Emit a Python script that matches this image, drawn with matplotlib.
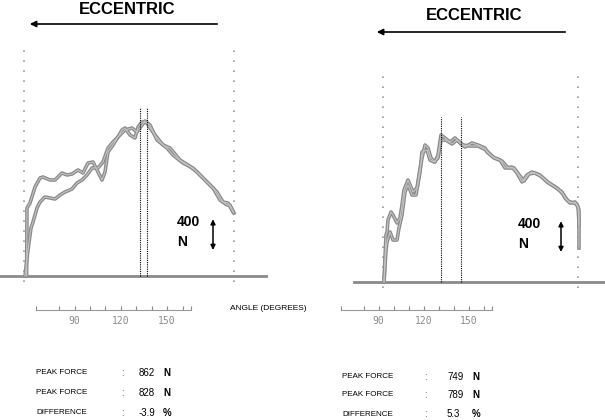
import numpy as np
import matplotlib
matplotlib.use("Agg")
import matplotlib.pyplot as plt

plt.rcParams['font.family'] = ['Liberation Sans', 'DejaVu Sans']

# --- data: angle (deg) vs force (N)
# left panel, trial 1
ang_l1 = [66.3, 66.5, 68, 70.5, 73, 74.5, 78, 80.5, 84, 86.5, 89, 92, 94.5, 97, 99.5,
          102, 104, 105.5, 107, 109.5, 112, 114, 115.5, 118, 120.5, 122, 124, 126.5,
          128, 130.5, 134.5, 138, 143, 147, 151.5, 156.5, 161.5, 164.5, 167, 169.5]
frc_l1 = [0, 884, 949, 1157, 1274, 1287, 1248, 1248, 1339, 1313, 1326, 1378, 1339, 1469, 1482,
          1352, 1248, 1352, 1612, 1703, 1807, 1898, 1924, 1833, 1794, 1937, 2002, 1989,
          1924, 1833, 1703, 1664, 1508, 1443, 1352, 1222, 1092, 962, 949, 832]
# left panel, trial 2
ang_l2 = [65.5, 67, 68.5, 69.5, 71.5, 73, 75.5, 78, 80.5, 83, 85.5, 89, 91.5, 94, 96.5,
          99, 102, 104.5, 107, 109.5, 113, 115.5, 119, 121.5, 125.5, 128, 131.5, 136.5,
          139.5, 144.5, 149.5, 154.5, 159.5, 163, 166.5, 168, 170]
frc_l2 = [0, 338, 624, 702, 884, 962, 1027, 1014, 1001, 1053, 1092, 1131, 1209, 1248, 1313,
          1404, 1404, 1482, 1664, 1742, 1833, 1898, 1924, 1872, 2015, 1963, 1768, 1664,
          1573, 1469, 1404, 1274, 1144, 988, 923, 923, 819]
# right panel, trial 1
ang_r1 = [65.5, 66.5, 67, 67.5, 69, 70, 72, 73.5, 74.5, 75.5, 77.5, 79, 80, 82, 83, 84.5,
          86, 87.5, 89, 91, 92.5, 94, 96, 98.5, 101, 103.5, 106, 109.5, 112.5, 116, 117,
          120, 123.5, 126, 129.5, 132, 134.5, 137, 139.5, 143.5, 147, 151, 154.5, 156,
          158.5, 161, 162.5, 163, 163]
frc_r1 = [0, 611, 650, 806, 910, 871, 767, 832, 1001, 1196, 1326, 1235, 1170, 1222, 1391, 1612,
          1781, 1742, 1612, 1560, 1651, 1911, 1872, 1820, 1872, 1807, 1755, 1807, 1781, 1742, 1690,
          1625, 1586, 1482, 1495, 1417, 1300, 1391, 1430, 1391, 1300, 1235, 1170, 1092,
          1027, 1040, 975, 780, 442]
# right panel, trial 2
ang_r2 = [65.5, 66.5, 67, 68.5, 70, 72, 73, 74.5, 76, 77.5, 79.5, 81.5, 83.5, 84.5, 87, 88.5,
          90.5, 92.5, 94, 96.5, 99.5, 102, 105, 108.5, 112.5, 116.5, 120.5, 124.5, 127.5,
          130.5, 133.5, 135.5, 138, 141, 144.5, 148, 152, 155, 157.5, 160, 162, 163, 163]
frc_r2 = [0, 416, 520, 650, 546, 546, 702, 871, 1170, 1261, 1131, 1131, 1430, 1690, 1716, 1586,
          1560, 1612, 1846, 1846, 1794, 1846, 1781, 1768, 1768, 1716, 1612, 1573, 1482,
          1482, 1378, 1313, 1404, 1417, 1365, 1287, 1222, 1144, 1053, 1027, 1014, 936, 741]

# range limits (grey dotted) and peak markers (black dotted)
lim_l = [65, 170]
lim_r = [65, 162.5]
peak_l = [123, 126.25]
peak_r = [94, 104]

ruler_ticks = [65, 80, 90, 100, 110, 120, 130, 140, 150, 160, 165.5]
ruler_labels = [90, 120, 150]

rows_l = [("PEAK FORCE", "862", "N"), ("PEAK FORCE", "828", "N"), ("DIFFERENCE", "-3.9", "%")]
rows_r = [("PEAK FORCE", "749", "N"), ("PEAK FORCE", "789", "N"), ("DIFFERENCE", "5.3", "%")]

W, H = 605, 420
fig = plt.figure(figsize=(W / 100, H / 100), dpi=100)


def fx(px):
    return px / W


def fy(py):
    return 1 - py / H


def trace(ax, x, y):
    ax.plot(x, y, color='#8a8a8a', lw=2.6, solid_joinstyle='round', zorder=3)
    ax.plot(x, y, color='#c4c4c4', lw=0.8, zorder=4)


def panel(rect, xlim, ylim, curves, lims, lim_top, peaks, peak_top, base, arrow):
    ax = fig.add_axes(rect)
    ax.set_xlim(*xlim)
    ax.set_ylim(*ylim)
    ax.axis('off')
    for x, y in curves:
        trace(ax, x, y)
    for v in lims:
        ax.plot([v, v], [-75, lim_top], color='#9a9a9a', lw=1.2,
                linestyle=(0, (1, 5)), zorder=2)
    for v in peaks:
        ax.plot([v, v], [0, peak_top], color='black', lw=0.8,
                linestyle=(0, (1, 1)), zorder=5)
    ax.plot(base, [0, 0], color='#8a8a8a', lw=2, zorder=2)
    ax_x, y0, tx = arrow
    ax.annotate('', xy=(ax_x, y0 + 400), xytext=(ax_x, y0),
                arrowprops=dict(arrowstyle='<|-|>', color='black', lw=1.1,
                                mutation_scale=7, shrinkA=0, shrinkB=0))
    ax.text(tx, y0 + 360, '400', fontsize=10, fontweight='bold', va='center')
    ax.text(tx, y0 + 100, 'N', fontsize=10, fontweight='bold', va='center')
    return ax


panel([fx(0), fy(290), fx(270), 250 / H], (53, 188), (-182, 3068),
      [(ang_l1, frc_l1), (ang_l2, frc_l2)], lim_l, 3003, peak_l, 2184,
      [53, 186], (159.5, 338, 141.5))
panel([fx(350), fy(295), fx(255), 245 / H], (48.5, 176), (-169, 3016),
      [(ang_r1, frc_r1), (ang_r2, frc_r2)], lim_r, 2756, peak_r, 2145,
      [50.5, 176], (154, 390, 132.5))


def ruler(x0, x1):
    ax = fig.add_axes([fx(x0), fy(310), fx(x1 - x0), 8 / H])
    ax.set_xlim(65, 165.5)
    ax.set_ylim(0, 1)
    for s in ('top', 'left', 'right'):
        ax.spines[s].set_visible(False)
    ax.spines['bottom'].set_color('#9a9a9a')
    ax.spines['bottom'].set_linewidth(0.8)
    ax.set_yticks([])
    ax.set_xticks(ruler_ticks)
    ax.set_xticklabels([str(t) if t in ruler_labels else '' for t in ruler_ticks],
                       family='DejaVu Sans Mono', fontsize=7, color='#8a8a8a')
    ax.tick_params(axis='x', direction='in', length=3, width=0.8, color='#8a8a8a', pad=4)
    ax.patch.set_alpha(0)


ruler(36, 191)
ruler(341, 492)

# headers with direction arrows
fig.text(fx(127), fy(10), 'ECCENTRIC', ha='center', va='center', fontsize=12, fontweight='bold')
fig.text(fx(474), fy(16), 'ECCENTRIC', ha='center', va='center', fontsize=12, fontweight='bold')
for xa, xb, ya in [(220, 27, 24), (568, 374, 32)]:
    fig.add_artist(matplotlib.patches.FancyArrowPatch(
        (fx(xa), fy(ya)), (fx(xb), fy(ya)), transform=fig.transFigure,
        arrowstyle='-|>', mutation_scale=9, lw=1.2, color='black'))

fig.text(fx(268), fy(309), 'ANGLE (DEGREES)', ha='center', va='center', fontsize=6)

# summary tables
for rows, xs, ys in [(rows_l, (36, 121, 139, 163), (373, 393, 413)),
                     (rows_r, (342, 424, 447, 472), (377, 395, 414))]:
    for (lab, val, unit), y in zip(rows, ys):
        fig.text(fx(xs[0]), fy(y), lab, va='center', fontsize=5.8)
        fig.text(fx(xs[1]), fy(y), ':', va='center', fontsize=7, color='#555555')
        fig.text(fx(xs[2]), fy(y), val, va='center', fontsize=7)
        fig.text(fx(xs[3]), fy(y), unit, va='center', fontsize=7, fontweight='bold')

fig.savefig('out.png', dpi=100, facecolor='white')
